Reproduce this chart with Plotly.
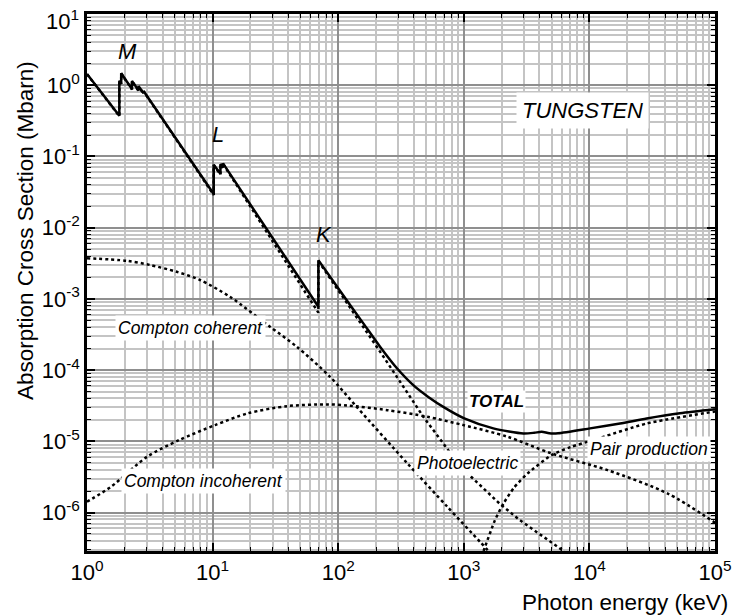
import plotly.graph_objects as go

# ---------------- data (photon energy in keV, cross section in Mbarn) ----------------
energy_total = [1.0, 1.809, 1.809, 1.872, 1.872, 2.281, 2.281, 2.575, 2.575, 2.82, 2.82,
                10.207, 10.207, 11.544, 11.544, 12.1, 12.1, 69.525, 69.525,
                100, 158.5, 215.3, 292.4, 398.1, 524.8, 707.9, 1009, 1718, 2979,
                3631, 4169, 4786, 5623, 10116, 17540, 28580, 52600, 100000]
sigma_total = [1.44, 0.373, 1.16, 1.05, 1.47, 0.88, 1.15, 0.84, 0.97, 0.77, 0.83,
               0.0297, 0.0766, 0.057, 0.078, 0.071, 0.080, 7.76e-4, 3.5e-3,
               1.41e-3, 4.53e-4, 2.13e-4, 1.07e-4, 6.10e-5, 4.17e-5, 2.95e-5, 2.10e-5, 1.52e-5, 1.29e-5,
               1.318e-5, 1.36e-5, 1.30e-5, 1.30e-5, 1.52e-5, 1.78e-5, 2.09e-5, 2.47e-5, 2.81e-5]

energy_photo = [1.0, 1.809, 1.809, 1.872, 1.872, 2.281, 2.281, 2.575, 2.575, 2.82, 2.82,
                10.207, 10.207, 11.544, 11.544, 12.1, 12.1, 69.525, 69.525,
                158.5, 215.3, 476.4, 753.4, 1072, 1923, 2800, 5834, 7000]
sigma_photo = [1.43, 0.368, 1.15, 1.04, 1.46, 0.87, 1.14, 0.83, 0.96, 0.76, 0.82,
               0.0288, 0.0755, 0.0557, 0.0768, 0.0698, 0.0788, 6.4e-4, 3.39e-3,
               4.0e-4, 1.82e-4, 2.21e-5, 7.5e-6, 3.54e-6, 1.34e-6, 7.8e-7, 3.13e-7, 2.4e-7]

energy_coh = [1.0, 2.07, 3.18, 5.18, 7.94, 13.74, 28.64, 46.77, 86.1, 140.3, 355.6, 741.3, 1346, 1700]
sigma_coh = [3.72e-3, 3.43e-3, 2.99e-3, 2.40e-3, 1.84e-3, 1.07e-3, 4.06e-4, 2.13e-4, 8.05e-5,
             3.05e-5, 4.89e-6, 1.20e-6, 3.88e-7, 2.5e-7]

energy_incoh = [1.0, 1.552, 3.006, 5.41, 10.47, 18.88, 39.26, 81.85, 118.3, 246.6, 512.9,
                993.1, 2228, 5000, 13960, 42070, 100000]
sigma_incoh = [1.42e-6, 2.30e-6, 6.07e-6, 1.04e-5, 1.69e-5, 2.46e-5, 3.12e-5, 3.30e-5, 3.19e-5,
               2.74e-5, 2.21e-5, 1.69e-5, 1.16e-5, 6.75e-6, 3.94e-6, 1.85e-6, 7.2e-7]

energy_pair = [1330, 1476, 1770, 2070, 2512, 3221, 5000, 7079, 10740, 28580, 100000]
sigma_pair = [2.0e-7, 3.3e-7, 7.8e-7, 1.34e-6, 2.24e-6, 3.54e-6, 6.4e-6, 8.3e-6, 1.04e-5, 1.78e-5, 2.62e-5]

x_major = [1, 10, 100, 1000, 10000, 100000]
x_labels = ["10<sup>0</sup>", "10<sup>1</sup>", "10<sup>2</sup>", "10<sup>3</sup>",
            "10<sup>4</sup>", "10<sup>5</sup>"]
y_major = [1e-6, 1e-5, 1e-4, 1e-3, 1e-2, 1e-1, 1, 10]
# the top label (10^1) is drawn as a separate text, nudged down inside the figure
y_labels = ["10<sup>-6</sup>", "10<sup>-5</sup>", "10<sup>-4</sup>", "10<sup>-3</sup>",
            "10<sup>-2</sup>", "10<sup>-1</sup>", "10<sup>0</sup>", ""]
y_top_label = "10<sup>1</sup>"
x_minor = [m * 10 ** k for k in range(0, 5) for m in range(2, 10)]
y_minor = [m * 10.0 ** k for k in range(-7, 1) for m in range(2, 10)]

FONT = "Arial, Liberation Sans, sans-serif"

fig = go.Figure()
dot = dict(color="black", width=2.5, dash="dot")
fig.add_trace(go.Scatter(x=energy_coh, y=sigma_coh, mode="lines",
                         line=dict(**dot, shape="spline", smoothing=0.8), name="Compton coherent"))
fig.add_trace(go.Scatter(x=energy_incoh, y=sigma_incoh, mode="lines",
                         line=dict(**dot, shape="spline", smoothing=0.8), name="Compton incoherent"))
fig.add_trace(go.Scatter(x=energy_pair, y=sigma_pair, mode="lines",
                         line=dict(**dot, shape="spline", smoothing=0.6), name="Pair production"))
fig.add_trace(go.Scatter(x=energy_photo, y=sigma_photo, mode="lines",
                         line=dict(**dot), name="Photoelectric"))

# total: absorption-edge part drawn with straight segments, smooth tail above the K edge
k_top = 18
fig.add_trace(go.Scatter(x=energy_total[:k_top + 1], y=sigma_total[:k_top + 1], mode="lines",
                         line=dict(color="black", width=2.5), name="TOTAL"))
fig.add_trace(go.Scatter(x=energy_total[k_top:], y=sigma_total[k_top:], mode="lines",
                         line=dict(color="black", width=2.5, shape="spline", smoothing=0.7),
                         name="TOTAL", showlegend=False))

axis_common = dict(
    type="log", tickmode="array", ticks="inside", ticklen=8, tickwidth=1.5, tickcolor="black",
    showline=True, linewidth=2.5, linecolor="black", mirror="ticks",
    showgrid=True, gridcolor="#8f8f8f", gridwidth=1.5, zeroline=False,
    tickfont=dict(size=22, color="black", family=FONT), ticklabeloverflow="allow",
    automargin=False,
)
minor_common = dict(tickmode="array", ticks="inside", ticklen=4, tickcolor="black", tickwidth=1,
                    showgrid=True, gridcolor="#c4c4c4", gridwidth=1.5)

fig.update_layout(
    width=735, height=615,
    margin=dict(l=87, r=20, t=14, b=64, autoexpand=False),
    paper_bgcolor="white", plot_bgcolor="white",
    showlegend=False,
    font=dict(family=FONT, color="black"),
    xaxis=dict(**axis_common, range=[0, 5], tickvals=x_major, ticktext=x_labels,
               minor=dict(**minor_common, tickvals=x_minor)),
    yaxis=dict(**axis_common, range=[-6.54, 1], tickvals=y_major, ticktext=y_labels,
               minor=dict(**minor_common, tickvals=y_minor)),
)

def label(text, x, y, size, bg=True, pad=2, anchor="center"):
    fig.add_annotation(
        text=text, xref="paper", yref="paper", x=x, y=y, xanchor=anchor, yanchor="middle",
        showarrow=False, font=dict(size=size, color="black", family=FONT),
        bgcolor="white" if bg else "rgba(0,0,0,0)", borderpad=pad,
    )

label("<i>M</i>", 0.0637, 0.9305, 22, bg=False)
label("<i>L</i>", 0.2091, 0.7752, 22, bg=False)
label("<i>K</i>", 0.3769, 0.5903, 22, bg=False)
label("<i>TUNGSTEN</i>", 0.789, 0.8194, 22, pad=5)
label("<b><i>TOTAL</i></b>", 0.6524, 0.278, 17, pad=1)
label("<i>Compton coherent</i>", 0.1642, 0.4147, 17.5)
label("<i>Compton incoherent</i>", 0.1858, 0.1304, 17.5)
label("<i>Photoelectric</i>", 0.6065, 0.1648, 17.5)
label("<i>Pair production</i>", 0.8943, 0.1899, 17.5)

# top y tick label, kept inside the page
fig.add_annotation(text=y_top_label, xref="paper", yref="paper", x=-0.0111, y=1.0165,
                   xanchor="right", yanchor="top", showarrow=False, borderpad=0,
                   font=dict(size=22, color="black", family=FONT))

# axis titles
fig.add_annotation(text="Photon energy (keV)", xref="paper", yref="paper", x=1.0239, y=-0.0955,
                   xanchor="right", yanchor="middle", showarrow=False,
                   font=dict(size=22.5, color="black", family=FONT))
fig.add_annotation(text="Absorption Cross Section (Mbarn)", xref="paper", yref="paper",
                   x=-0.0987, y=0.5959, xanchor="center", yanchor="middle", textangle=-90,
                   showarrow=False, font=dict(size=22.5, color="black", family=FONT))

fig.write_html("out.html")
